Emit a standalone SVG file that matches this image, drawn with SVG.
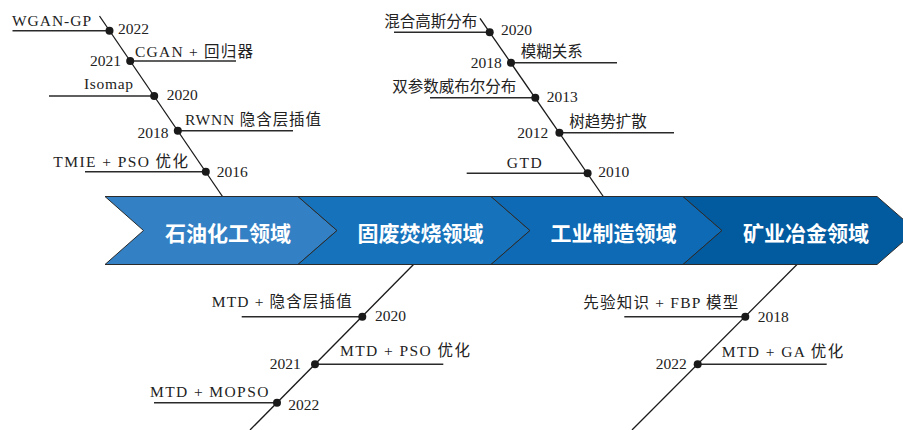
<svg xmlns="http://www.w3.org/2000/svg" width="903" height="430" viewBox="0 0 903 430">
  <style>
    .bg { fill: #ffffff; }
    .chev { stroke: #2b2b2b; stroke-width: 1; }
    .domain { font-family: "Noto Sans CJK SC", "Noto Sans", sans-serif; font-size: 21px; font-weight: bold; fill: #ffffff; text-anchor: middle; }
    .spine { stroke: #1a1a1a; stroke-width: 1.3; fill: none; }
    .branch { stroke: #2a2a2a; stroke-width: 1.4; fill: none; }
    .dot { fill: #1a1a1a; }
    .lbl { font-family: "Liberation Serif", "Noto Sans CJK SC", serif; font-size: 15.5px; fill: #222222; }
    .mid { text-anchor: middle; }
    .end { text-anchor: end; }
  </style>
  <rect class="bg" x="0" y="0" width="903" height="430"/>

  <g id="connectors">
    <line class="spine" x1="99.5" y1="16" x2="222.5" y2="196.5"/>
    <line class="spine" x1="480" y1="18.3" x2="603.3" y2="196.5"/>
    <line class="spine" x1="413.5" y1="264.5" x2="250" y2="430"/>
    <line class="spine" x1="797" y1="264.5" x2="632" y2="430"/>
  </g>

  <g id="domain-petro">
    <polygon class="chev" fill="#3380c4" points="105,196.5 298,196.5 337,230.5 298,264.5 105,264.5 143.5,230.5"/>
    <text class="domain" x="228" y="240.5">石油化工领域</text>
  </g>
  <g id="domain-waste">
    <polygon class="chev" fill="#1672bb" points="298,196.5 491,196.5 530,230.5 491,264.5 298,264.5 337,230.5"/>
    <text class="domain" x="420.5" y="240.5">固废焚烧领域</text>
  </g>
  <g id="domain-industry">
    <polygon class="chev" fill="#0e6ab4" points="491,196.5 683,196.5 722,230.5 683,264.5 491,264.5 530,230.5"/>
    <text class="domain" x="613.5" y="240.5">工业制造领域</text>
  </g>
  <g id="domain-mining">
    <polygon class="chev" fill="#025a9f" points="683,196.5 877,196.5 916,230.5 877,264.5 683,264.5 722,230.5"/>
    <text class="domain" x="806" y="240.5">矿业冶金领域</text>
  </g>

  <!-- Petrochemical branches -->
  <g id="petro-2022">
    <line class="branch" x1="12.5" y1="30.7" x2="109.5" y2="30.7"/>
    <circle class="dot" cx="109.5" cy="30.7" r="4"/>
    <text class="lbl mid" x="51.5" y="26" textLength="79" lengthAdjust="spacing">WGAN-GP</text>
    <text class="lbl" x="118" y="33.5">2022</text>
  </g>
  <g id="petro-2021">
    <line class="branch" x1="130.2" y1="61" x2="236" y2="61"/>
    <circle class="dot" cx="130.2" cy="61" r="4"/>
    <text class="lbl mid" x="194" y="57" textLength="118" lengthAdjust="spacing">CGAN + 回归器</text>
    <text class="lbl end" x="121" y="65.5">2021</text>
  </g>
  <g id="petro-2020">
    <line class="branch" x1="49" y1="96" x2="154.2" y2="96"/>
    <circle class="dot" cx="154.2" cy="96" r="4"/>
    <text class="lbl mid" x="108.5" y="88.5" textLength="49" lengthAdjust="spacing">Isomap</text>
    <text class="lbl" x="166.7" y="100">2020</text>
  </g>
  <g id="petro-2018">
    <line class="branch" x1="177.8" y1="130.7" x2="293" y2="130.7"/>
    <circle class="dot" cx="177.8" cy="130.7" r="4"/>
    <text class="lbl mid" x="253" y="125" textLength="136" lengthAdjust="spacing">RWNN 隐含层插值</text>
    <text class="lbl end" x="168.5" y="137.5">2018</text>
  </g>
  <g id="petro-2016">
    <line class="branch" x1="85" y1="171.7" x2="205.8" y2="171.7"/>
    <circle class="dot" cx="205.8" cy="171.7" r="4"/>
    <text class="lbl mid" x="120.7" y="166.5" textLength="134.7" lengthAdjust="spacing">TMIE + PSO 优化</text>
    <text class="lbl" x="216.7" y="176.5">2016</text>
  </g>

  <!-- Industrial manufacturing branches -->
  <g id="ind-2020">
    <line class="branch" x1="394" y1="32.3" x2="489.7" y2="32.3"/>
    <circle class="dot" cx="489.7" cy="32.3" r="4"/>
    <text class="lbl mid" x="430.7" y="26.5">混合高斯分布</text>
    <text class="lbl" x="501" y="35">2020</text>
  </g>
  <g id="ind-2018">
    <line class="branch" x1="511" y1="62.7" x2="617" y2="62.7"/>
    <circle class="dot" cx="511" cy="62.7" r="4"/>
    <text class="lbl mid" x="551.7" y="56.5">模糊关系</text>
    <text class="lbl end" x="501.7" y="68">2018</text>
  </g>
  <g id="ind-2013">
    <line class="branch" x1="430" y1="97.7" x2="535.3" y2="97.7"/>
    <circle class="dot" cx="535.3" cy="97.7" r="4"/>
    <text class="lbl mid" x="454.2" y="91.5">双参数威布尔分布</text>
    <text class="lbl" x="546.7" y="101.5">2013</text>
  </g>
  <g id="ind-2012">
    <line class="branch" x1="559.4" y1="132.7" x2="674" y2="132.7"/>
    <circle class="dot" cx="559.4" cy="132.7" r="4"/>
    <text class="lbl mid" x="608" y="126.5">树趋势扩散</text>
    <text class="lbl end" x="548.3" y="138">2012</text>
  </g>
  <g id="ind-2010">
    <line class="branch" x1="466.7" y1="173.3" x2="587.6" y2="173.3"/>
    <circle class="dot" cx="587.6" cy="173.3" r="4"/>
    <text class="lbl mid" x="524.2" y="168.3" textLength="35" lengthAdjust="spacing">GTD</text>
    <text class="lbl" x="598.3" y="177">2010</text>
  </g>

  <!-- Solid waste incineration branches -->
  <g id="waste-2020">
    <line class="branch" x1="241.7" y1="316.7" x2="362.3" y2="316.7"/>
    <circle class="dot" cx="362.3" cy="316.7" r="4"/>
    <text class="lbl mid" x="281.7" y="306.5" textLength="140" lengthAdjust="spacing">MTD + 隐含层插值</text>
    <text class="lbl" x="375" y="321">2020</text>
  </g>
  <g id="waste-2021">
    <line class="branch" x1="315" y1="364.3" x2="443.3" y2="364.3"/>
    <circle class="dot" cx="315" cy="364.3" r="4"/>
    <text class="lbl mid" x="405" y="356" textLength="130" lengthAdjust="spacing">MTD + PSO 优化</text>
    <text class="lbl end" x="300.7" y="369">2021</text>
  </g>
  <g id="waste-2022">
    <line class="branch" x1="154" y1="402.7" x2="277" y2="402.7"/>
    <circle class="dot" cx="277" cy="402.7" r="4"/>
    <text class="lbl mid" x="209.2" y="396.5" textLength="118.3" lengthAdjust="spacing">MTD + MOPSO</text>
    <text class="lbl" x="288.3" y="410">2022</text>
  </g>

  <!-- Mining and metallurgy branches -->
  <g id="mining-2018">
    <line class="branch" x1="624.3" y1="316.7" x2="745.3" y2="316.7"/>
    <circle class="dot" cx="745.3" cy="316.7" r="4"/>
    <text class="lbl mid" x="660.8" y="308" textLength="155" lengthAdjust="spacing">先验知识 + FBP 模型</text>
    <text class="lbl" x="757.7" y="321.5">2018</text>
  </g>
  <g id="mining-2022">
    <line class="branch" x1="697.7" y1="364.3" x2="826.7" y2="364.3"/>
    <circle class="dot" cx="697.7" cy="364.3" r="4"/>
    <text class="lbl mid" x="782.5" y="356.5" textLength="121.6" lengthAdjust="spacing">MTD + GA 优化</text>
    <text class="lbl end" x="686.7" y="369">2022</text>
  </g>
</svg>
